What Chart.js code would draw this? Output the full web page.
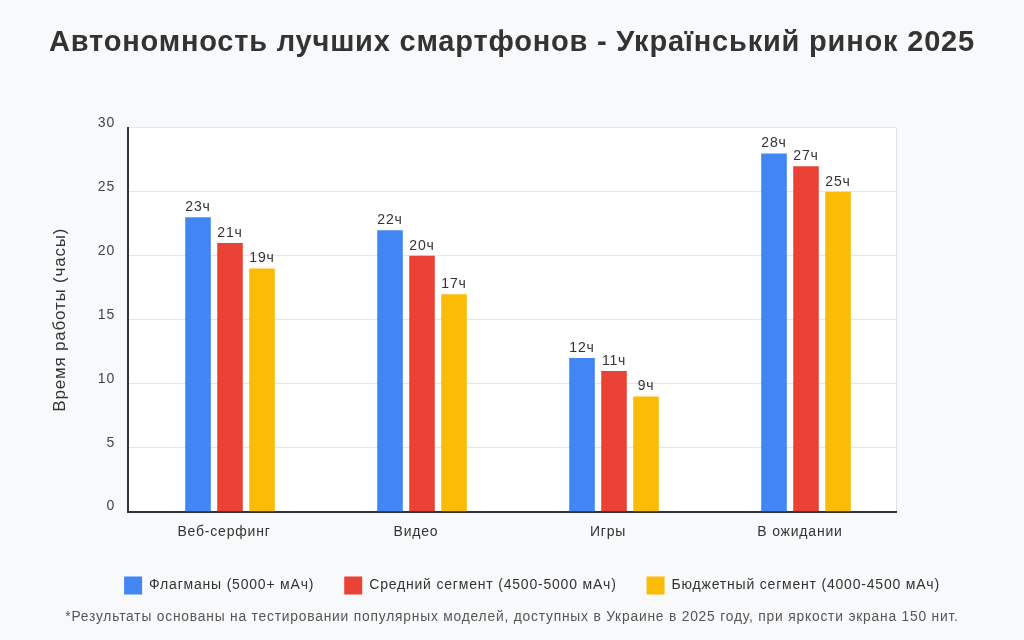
<!DOCTYPE html>
<html lang="ru">
<head>
<meta charset="utf-8">
<title>Автономность лучших смартфонов</title>
<script src="https://cdn.jsdelivr.net/npm/chart.js@4/dist/chart.umd.min.js"></script>
<style>
    html, body { margin: 0; padding: 0; background: #f8f9fa; }
    #wrap { width: 1024px; height: 640px; }
</style>
</head>
<body>
<div id="wrap"><canvas id="batteryChart" width="1024" height="640"></canvas></div>
<script>
// ------------------------------------------------------------------
//  Data
// ------------------------------------------------------------------
const categories = ['Веб-серфинг', 'Видео', 'Игры', 'В ожидании'];
const flagships  = [23, 22, 12, 28];
const midRange   = [21, 20, 11, 27];
const budget     = [19, 17, 9, 25];
const seriesNames = [
    'Флагманы (5000+ мАч)',
    'Средний сегмент (4500-5000 мАч)',
    'Бюджетный сегмент (4000-4500 мАч)'
];
const yTicks = [0, 5, 10, 15, 20, 25, 30];

const FONT = "'Liberation Sans', Arial, sans-serif";

// ------------------------------------------------------------------
//  Plugins: spacing, plot background, value labels
// ------------------------------------------------------------------
const plotFrame = {
    id: 'plotFrame',
    beforeUpdate(chart) {
        // original text is set a little looser than the canvas default
        chart.ctx.letterSpacing = '0.8px';
    },
    afterLayout(chart) {
        // bars sit a little right of the category label in the original
        chart.scales.x._startPixel += 6;
        // legend row is not quite centred either
        chart.legend.left += 20;
        chart.legend.right += 20;
    },
    beforeDraw(chart) {
        const { ctx, chartArea: a } = chart;
        ctx.save();
        ctx.fillStyle = '#ffffff';
        ctx.fillRect(a.left, a.top, a.right - a.left, a.bottom - a.top);
        ctx.strokeStyle = '#e0e0e0';
        ctx.lineWidth = 1;
        ctx.beginPath();
        ctx.moveTo(a.right + 0.5, a.top);
        ctx.lineTo(a.right + 0.5, a.bottom);
        ctx.stroke();
        ctx.restore();
    }
};

const valueLabels = {
    id: 'valueLabels',
    afterDatasetsDraw(chart) {
        const { ctx } = chart;
        ctx.save();
        ctx.font = '14px ' + FONT;
        ctx.fillStyle = '#333333';
        ctx.textAlign = 'center';
        ctx.textBaseline = 'bottom';
        chart.data.datasets.forEach((ds, i) => {
            chart.getDatasetMeta(i).data.forEach((bar, j) => {
                ctx.fillText(ds.data[j] + 'ч', bar.x, bar.y - 3);
            });
        });
        ctx.restore();
    }
};

// ------------------------------------------------------------------
//  Chart
// ------------------------------------------------------------------
new Chart(document.getElementById('batteryChart'), {
    type: 'bar',
    data: {
        labels: categories,
        datasets: [
            { label: seriesNames[0], data: flagships, backgroundColor: '#4285F4' },
            { label: seriesNames[1], data: midRange,  backgroundColor: '#EA4335' },
            { label: seriesNames[2], data: budget,    backgroundColor: '#FBBC05' }
        ]
    },
    options: {
        responsive: false,
        animation: false,
        layout: { padding: { left: 0, right: 0, top: 0, bottom: 15 } },
        datasets: { bar: { categoryPercentage: 0.5, barPercentage: 0.8 } },
        plugins: {
            title: {
                display: true,
                text: 'Автономность лучших смартфонов - Український ринок 2025',
                color: '#333333',
                font: { family: FONT, size: 29, weight: 'bold' },
                padding: { top: 26, bottom: 67 }
            },
            subtitle: {
                display: true,
                position: 'bottom',
                text: '*Результаты основаны на тестировании популярных моделей, доступных в Украине в 2025 году, при яркости экрана 150 нит.',
                color: '#555555',
                font: { family: FONT, size: 13.8 },
                padding: { top: 4, bottom: 0 }
            },
            legend: {
                position: 'bottom',
                labels: {
                    boxWidth: 18,
                    boxHeight: 18,
                    padding: 30,
                    color: '#333333',
                    font: { family: FONT, size: 14 }
                }
            },
            tooltip: { enabled: false }
        },
        scales: {
            x: {
                grid: { display: false },
                border: { display: true, color: '#333333', width: 2 },
                ticks: {
                    color: '#333333',
                    font: { family: FONT, size: 14 },
                    padding: 4,
                    labelOffset: -6
                },
                afterFit(scale) { scale.height += 2; }
            },
            y: {
                min: 0,
                max: 30,
                afterBuildTicks(scale) {
                    scale.ticks = yTicks.map(v => ({ value: v }));
                },
                afterFit(scale) { scale.width = 128; },
                grid: { color: '#e6e6e6', drawTicks: false },
                border: { display: true, color: '#333333', width: 2 },
                ticks: {
                    color: '#444444',
                    font: { family: FONT, size: 14 },
                    padding: 13,
                    labelOffset: -5
                },
                title: {
                    display: true,
                    text: 'Время работы (часы)',
                    color: '#333333',
                    font: { family: FONT, size: 17 },
                    padding: { top: 50, bottom: 0 }
                }
            },
            // empty right-hand margin so the plot ends where the original does
            yRight: {
                position: 'right',
                display: true,
                min: 0,
                max: 1,
                grid: { display: false },
                border: { display: false },
                ticks: { display: false },
                afterFit(scale) { scale.width = 128; }
            }
        }
    },
    plugins: [plotFrame, valueLabels]
});
</script>
</body>
</html>
